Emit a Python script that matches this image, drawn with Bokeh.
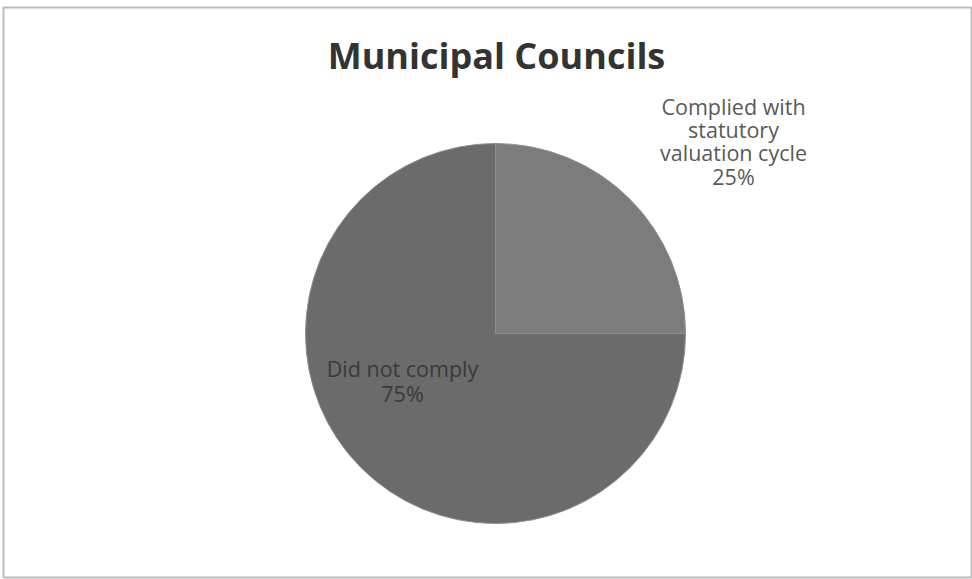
import math
from bokeh.plotting import figure
from bokeh.models import ColumnDataSource, Range1d
from bokeh.core.properties import value
from bokeh.embed import file_html
from bokeh.resources import INLINE

title = "Municipal Councils"
categories = ["Complied with statutory valuation cycle", "Did not comply"]
values = [25, 75]
colors = ["#7c7c7c", "#6b6b6b"]

W, H = 972, 579
p = figure(width=W, height=H, output_backend="svg", toolbar_location=None,
           x_range=Range1d(0, W), y_range=Range1d(0, H), min_border=0)
p.axis.visible = False
p.grid.visible = False
p.outline_line_color = None
p.background_fill_color = "white"
p.border_fill_color = "white"

# frame
p.quad(left=[3], right=[971], bottom=[H - 577], top=[H - 7], fill_color=None,
       line_color="#bdbdbd", line_width=2)

cx, cy, r = 495, H - 333, 190
total = sum(values)
starts, ends = [], []
cum = 0
for v in values:
    s = math.pi / 2 - 2 * math.pi * cum / total
    cum += v
    e = math.pi / 2 - 2 * math.pi * cum / total
    starts.append(s)
    ends.append(e)
src = ColumnDataSource(dict(start=starts, end=ends, color=colors, x=[cx] * 2, y=[cy] * 2))
p.wedge(x="x", y="y", radius=r, start_angle="start", end_angle="end", direction="clock",
        fill_color="color", line_color="#8e8e8e", line_width=1, source=src)

font = value("Open Sans")
p.text(x=[496], y=[H - 55], text=[title], text_font=font, text_font_size="36px",
       text_font_style="bold", text_color="#333333", text_align="center", text_baseline="middle")

pct = [f"{round(v * 100 / total)}%" for v in values]
lab1 = ["Complied with", "statutory", "valuation cycle", pct[0]]
ys1 = [H - 106, H - 129, H - 152, H - 176]
p.text(x=[733] * 4, y=ys1, text=lab1, text_font=font, text_font_size="21.5px",
       text_color="#595959", text_align="center", text_baseline="middle")

lab2 = [categories[1], pct[1]]
p.text(x=[402] * 2, y=[H - 368, H - 393], text=lab2, text_font=font, text_font_size="21.5px",
       text_color="#3a3a3a", text_align="center", text_baseline="middle")

open("out.html", "w").write(file_html(p, INLINE))
